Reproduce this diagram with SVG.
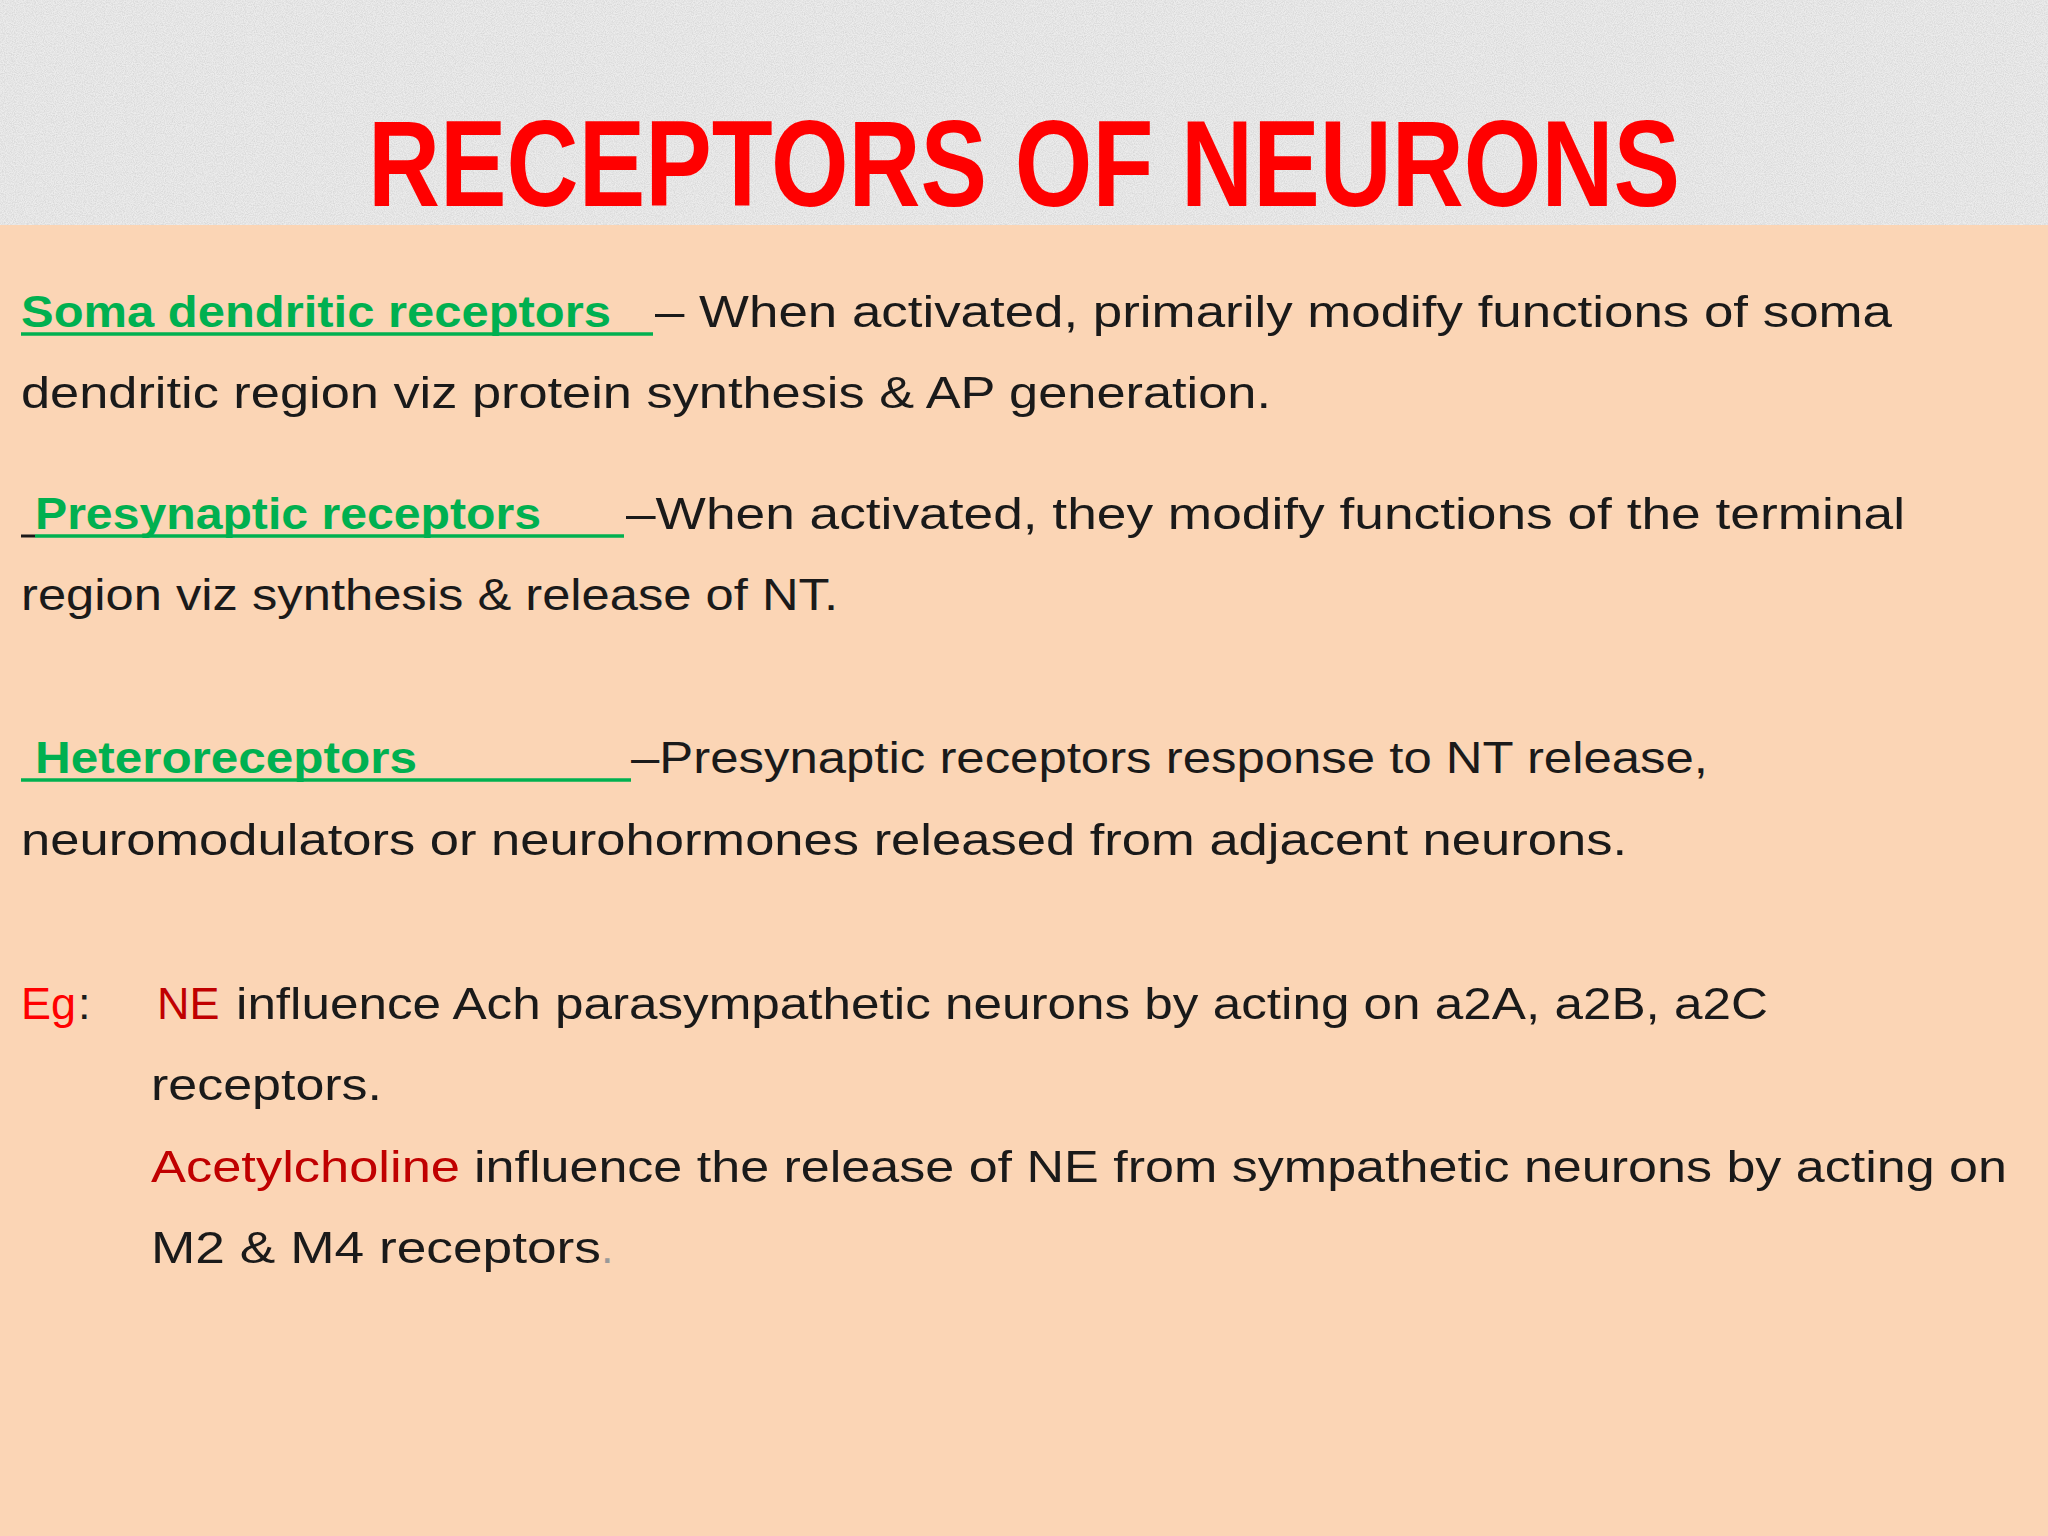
<svg xmlns="http://www.w3.org/2000/svg" width="2048" height="1536" viewBox="0 0 2048 1536">
<style>
.b{font-family:"Liberation Sans",Arial,sans-serif;font-size:45px;fill:#1a1a1a}
.g{fill:#00B050;font-weight:bold}
.r{fill:#FF0000}
.dr{fill:#C00000}
.u{stroke:#00B050;stroke-width:3.5}
</style>
<defs>
<filter id="tex" x="0" y="0" width="100%" height="100%">
<feTurbulence type="fractalNoise" baseFrequency="0.9" numOctaves="2" seed="3"/>
<feColorMatrix type="matrix" values="0 0 0 0 0.55  0 0 0 0 0.55  0 0 0 0 0.55  0 0 0 -1.6 1.1"/>
</filter>
</defs>
<rect x="0" y="0" width="2048" height="225" fill="#ececec"/>
<rect x="0" y="0" width="2048" height="225" filter="url(#tex)" opacity="0.6"/>
<rect x="0" y="225" width="2048" height="1311" fill="#FBD5B5"/>
<text x="368" y="206" textLength="1312" lengthAdjust="spacingAndGlyphs" style="font-family:'Liberation Sans',Arial,sans-serif;font-weight:bold;font-size:122px;fill:#FF0000">RECEPTORS OF NEURONS</text>

<text class="b g" x="21" y="327" textLength="590" lengthAdjust="spacingAndGlyphs">Soma dendritic receptors</text>
<line class="u" x1="21" y1="334" x2="653" y2="334"/>
<text class="b" x="655" y="327" textLength="1237" lengthAdjust="spacingAndGlyphs">– When activated, primarily modify functions of soma</text>
<text class="b" x="21" y="408" textLength="1250" lengthAdjust="spacingAndGlyphs">dendritic region viz protein synthesis &amp; AP generation.</text>

<line x1="21" y1="536" x2="35" y2="536" stroke="#1a1a1a" stroke-width="3"/>
<text class="b g" x="35" y="529" textLength="506" lengthAdjust="spacingAndGlyphs">Presynaptic receptors</text>
<line class="u" x1="35" y1="536" x2="624" y2="536"/>
<text class="b" x="626" y="529" textLength="1279" lengthAdjust="spacingAndGlyphs">–When activated, they modify functions of the terminal</text>
<text class="b" x="21" y="610" textLength="817" lengthAdjust="spacingAndGlyphs">region viz synthesis &amp; release of NT.</text>

<text class="b g" x="35" y="773" textLength="382" lengthAdjust="spacingAndGlyphs">Heteroreceptors</text>
<line class="u" x1="21" y1="780" x2="631" y2="780"/>
<text class="b" x="631" y="773" textLength="1077" lengthAdjust="spacingAndGlyphs">–Presynaptic receptors response to NT release,</text>
<text class="b" x="21" y="855" textLength="1606" lengthAdjust="spacingAndGlyphs">neuromodulators or neurohormones released from adjacent neurons.</text>

<text class="b r" x="21" y="1019">Eg</text><text class="b" x="78" y="1019">:</text>
<text class="b dr" x="157" y="1019">NE</text>
<text class="b" x="236" y="1019" textLength="1532" lengthAdjust="spacingAndGlyphs">influence Ach parasympathetic neurons by acting on a2A, a2B, a2C</text>
<text class="b" x="151" y="1100" textLength="231" lengthAdjust="spacingAndGlyphs">receptors.</text>
<text class="b dr" x="151" y="1182" textLength="309" lengthAdjust="spacingAndGlyphs">Acetylcholine</text>
<text class="b" x="474" y="1182" textLength="1533" lengthAdjust="spacingAndGlyphs">influence the release of NE from sympathetic neurons by acting on</text>
<text class="b" x="151" y="1263" textLength="450" lengthAdjust="spacingAndGlyphs">M2 &amp; M4 receptors</text><text class="b" x="601" y="1263" style="fill:#999">.</text>
</svg>
